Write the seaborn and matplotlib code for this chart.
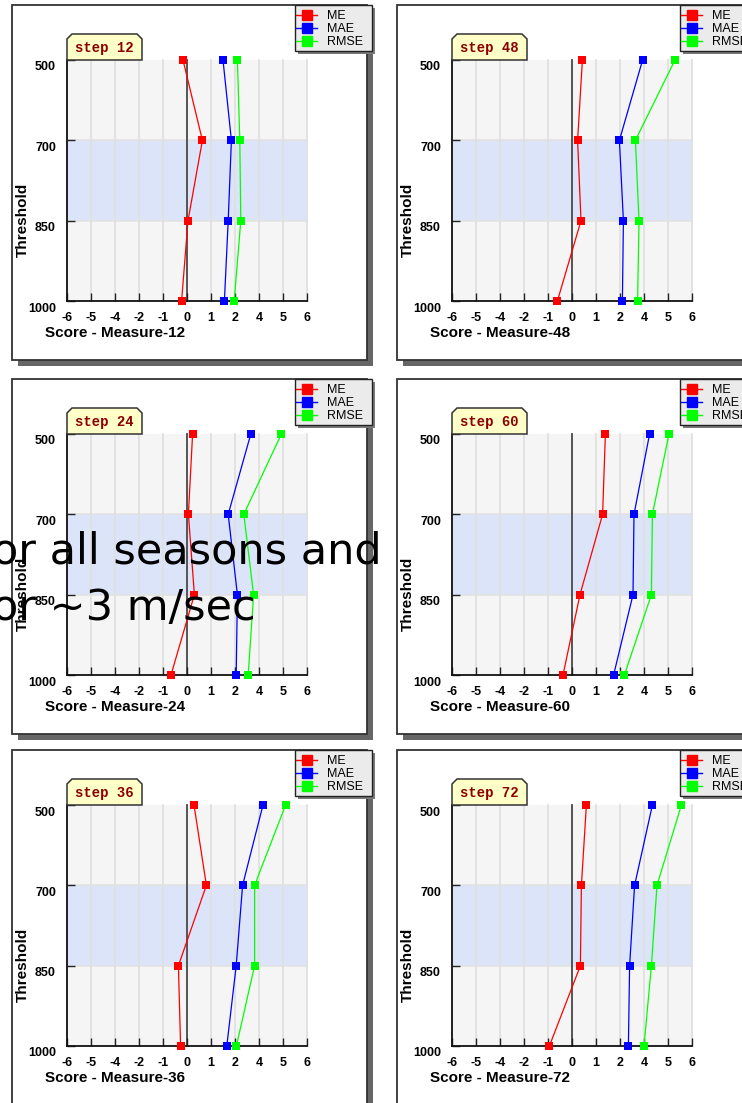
import numpy as np
import pandas as pd
import matplotlib
matplotlib.use("Agg")
import matplotlib.pyplot as plt
from matplotlib.patches import Rectangle, Polygon
from matplotlib.lines import Line2D
from matplotlib.transforms import ScaledTranslation
import seaborn as sns

# ---- data -------------------------------------------------------------
LEVELS = [500, 700, 850, 1000]
MEASURES = ["ME", "MAE", "RMSE"]
STEPS = [12, 48, 24, 60, 36, 72]          # grid order, row by row

ME_12 = [-0.20, 0.77, 0.05, -0.27]
MAE_12 = [1.80, 2.22, 2.06, 1.87]
RMSE_12 = [2.52, 2.64, 2.69, 2.36]

ME_24 = [0.28, 0.07, 0.37, -0.80]
MAE_24 = [3.19, 2.06, 2.52, 2.46]
RMSE_24 = [4.72, 2.84, 3.33, 3.06]

ME_36 = [0.35, 0.97, -0.43, -0.32]
MAE_36 = [3.80, 2.78, 2.46, 1.99]
RMSE_36 = [4.93, 3.38, 3.38, 2.47]

ME_48 = [0.52, 0.28, 0.45, -0.73]
MAE_48 = [3.53, 2.37, 2.57, 2.52]
RMSE_48 = [5.15, 3.17, 3.35, 3.28]

ME_60 = [1.67, 1.53, 0.40, -0.45]
MAE_60 = [3.88, 3.10, 3.05, 2.08]
RMSE_60 = [4.85, 4.02, 3.97, 2.62]

ME_72 = [0.72, 0.47, 0.42, -1.13]
MAE_72 = [4.02, 3.13, 2.88, 2.82]
RMSE_72 = [5.47, 4.25, 3.97, 3.60]

SERIES = {
    12: (ME_12, MAE_12, RMSE_12),
    24: (ME_24, MAE_24, RMSE_24),
    36: (ME_36, MAE_36, RMSE_36),
    48: (ME_48, MAE_48, RMSE_48),
    60: (ME_60, MAE_60, RMSE_60),
    72: (ME_72, MAE_72, RMSE_72),
}

X_TICKS = [-6.0, -4.8, -3.6, -2.4, -1.2, 0.0, 1.2, 2.4, 3.6, 4.8, 6.0]
X_TICK_LABELS = ["-6", "-5", "-4", "-2", "-1", "0", "1", "2", "4", "5", "6"]
Y_TICK_LABELS = [str(v) for v in LEVELS]

COLORS = {"ME": "#ff0000", "MAE": "#0000ff", "RMSE": "#00ff00"}

CAPTION = ["or all seasons and", "or ~3 m/sec"]

# ---- figure -----------------------------------------------------------
W, H = 742, 1103
fig = plt.figure(figsize=(W / 100, H / 100), dpi=100)
fig.patch.set_facecolor("white")
BOLD = dict(fontweight="bold", family="Liberation Sans")


def frect(x0, y0, x1, y1, **kw):
    r = Rectangle((x0 / W, 1 - y1 / H), (x1 - x0) / W, (y1 - y0) / H,
                  transform=fig.transFigure, **kw)
    fig.add_artist(r)
    return r


def fpoly(points, **kw):
    p = Polygon([(x / W, 1 - y / H) for x, y in points], closed=True,
                transform=fig.transFigure, **kw)
    fig.add_artist(p)
    return p


COL_DX = [0, 385]
ROW_DY = [0, 374, 745]
shift_down = ScaledTranslation(0, -6 / 100, fig.dpi_scale_trans)

for idx, step in enumerate(STEPS):
    dx = COL_DX[idx % 2]
    dy = ROW_DY[idx // 2]

    # panel frame with drop shadow
    frect(18 + dx, 11 + dy, 373 + dx, 366 + dy, fc="#666666", ec="none", zorder=-3)
    frect(12 + dx, 5 + dy, 367 + dx, 360 + dy, fc="white", ec="#333333", lw=1.3, zorder=-2)

    ax = fig.add_axes([(67 + dx) / W, 1 - (301 + dy) / H, 240 / W, 241 / H])
    ax.set_facecolor("#f5f5f5")
    ax.axhspan(1, 2, color="#dce4fa", lw=0, zorder=0.5)
    for yb in (1, 2):
        ax.axhline(yb, color="#e2e2e2", lw=1.2, zorder=0.6)
    for t in X_TICKS:
        ax.axvline(t, color="#e0e0e0", lw=1.3, zorder=0.7)
    ax.axvline(0, color="#4a4a4a", lw=1.3, zorder=1)

    me, mae, rmse = SERIES[step]
    df = pd.DataFrame({
        "measure": np.repeat(MEASURES, len(LEVELS)),
        "pos": list(range(len(LEVELS))) * 3,
        "value": me + mae + rmse,
    })
    sns.lineplot(data=df, x="value", y="pos", hue="measure", hue_order=MEASURES,
                 palette=COLORS, marker="s", markersize=5.5, markeredgewidth=0,
                 linewidth=0.9, sort=False, estimator=None, orient="y",
                 legend=False, ax=ax, zorder=3)
    for ln in ax.lines:
        ln.set_clip_on(False)

    ax.set_xlim(-6, 6)
    ax.set_ylim(3, 0)
    ax.set_xticks(X_TICKS, labels=X_TICK_LABELS)
    ax.set_yticks(range(len(LEVELS)), labels=Y_TICK_LABELS)
    ax.tick_params(axis="x", direction="in", length=6, width=1, color="#222222",
                   pad=8, labelsize=9)
    ax.tick_params(axis="y", direction="in", length=6, width=1, color="#222222",
                   pad=8, labelsize=9)
    for lab in ax.get_xticklabels() + ax.get_yticklabels():
        lab.set_fontweight("bold")
        lab.set_family("Liberation Sans")
    for lab in ax.get_yticklabels():
        lab.set_transform(lab.get_transform() + shift_down)
    ax.set_xlabel("")
    ax.set_ylabel("")
    for s in ("top", "right"):
        ax.spines[s].set_visible(False)
    for s in ("left", "bottom"):
        ax.spines[s].set_color("#111111")
        ax.spines[s].set_linewidth(1.3)

    fig.text((45 + dx) / W, 1 - (333 + dy) / H, f"Score - Measure-{step}",
             ha="left", va="center", fontsize=11, **BOLD)
    fig.text((23 + dx) / W, 1 - (220 + dy) / H, "Threshold", rotation=90,
             ha="center", va="center", fontsize=11, **BOLD)

    # step tag
    fpoly([(67 + dx, 60 + dy), (67 + dx, 39 + dy), (72 + dx, 34 + dy),
           (137 + dx, 34 + dy), (142 + dx, 39 + dy), (142 + dx, 60 + dy)],
          fc="#ffffc8", ec="#333333", lw=1.1, zorder=4)
    fig.text((104 + dx) / W, 1 - (48 + dy) / H, f"step {step}", ha="center",
             va="center", fontsize=10, color="#8b0000", fontweight="bold",
             family="Liberation Mono", zorder=5)

    # legend box
    frect(298 + dx, 8 + dy, 375 + dx, 54 + dy, fc="#7a7a7a", ec="none", zorder=4)
    frect(295 + dx, 5 + dy, 372 + dx, 51 + dy, fc="#ebebeb", ec="#222222", lw=1.0, zorder=5)
    handles = [Line2D([], [], color=COLORS[m], marker="s", markersize=7, lw=1)
               for m in MEASURES]
    leg = fig.legend(handles, MEASURES, loc="upper left",
                     bbox_to_anchor=((296 + dx) / W, 1 - (10 + dy) / H),
                     frameon=False, labelspacing=0.08,
                     handlelength=1.7, handletextpad=0.8, borderpad=0,
                     borderaxespad=0, prop={"family": "Liberation Sans", "size": 9})
    leg.set_zorder(6)

# overlaid slide caption
for line, base in zip(CAPTION, (564, 620)):
    fig.text(-8 / W, 1 - base / H, line, fontsize=31, family="DejaVu Sans",
             color="black", va="baseline", ha="left", zorder=20)

fig.savefig("out.png", dpi=100)
